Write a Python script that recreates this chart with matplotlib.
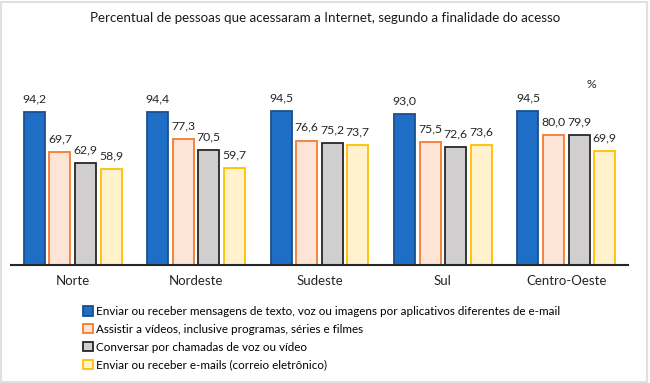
import matplotlib
matplotlib.use("Agg")
import matplotlib.pyplot as plt
import numpy as np
from matplotlib.patches import Patch, Rectangle

plt.rcParams['font.family'] = ['Lato', 'DejaVu Sans']

regions = ["Norte", "Nordeste", "Sudeste", "Sul", "Centro-Oeste"]
series_names = [
    "Enviar ou receber mensagens de texto, voz ou imagens por aplicativos diferentes de e-mail",
    "Assistir a vídeos, inclusive programas, séries e filmes",
    "Conversar por chamadas de voz ou vídeo",
    "Enviar ou receber e-mails (correio eletrônico)",
]
mensagens = [94.2, 94.4, 94.5, 93.0, 94.5]
videos = [69.7, 77.3, 76.6, 75.5, 80.0]
chamadas = [62.9, 70.5, 75.2, 72.6, 79.9]
emails = [58.9, 59.7, 73.7, 73.6, 69.9]
series = [mensagens, videos, chamadas, emails]

fills = ["#1F6EC6", "#FCE4D6", "#D0CECE", "#FFF2CC"]
edges = ["#1B4F8C", "#F47C30", "#262626", "#FFC000"]

fig = plt.figure(figsize=(6.5, 3.83), dpi=100)
ax = fig.add_axes([11/650, 1-265/383, 617/650, (265-102.5)/383])

x = np.arange(len(regions))
step = 0.207
width = 0.17
for i, (vals, fc, ec) in enumerate(zip(series, fills, edges)):
    pos = x + (i - 1.5) * step
    ax.bar(pos, vals, width=width, color=fc, edgecolor=ec, linewidth=1.3, zorder=2)
    for p, v in zip(pos, vals):
        ax.annotate(f"{v:.1f}".replace(".", ","), (p, v), xytext=(0, 5.5),
                    textcoords="offset points", ha="center", va="bottom",
                    fontsize=8.8, color="#262626")

ax.set_xlim(-0.5, 4.5)
ax.set_ylim(0, 100)
ax.set_yticks([])
ax.set_xticks(x)
ax.set_xticklabels(regions, fontsize=9.5, color="#262626")
ax.tick_params(axis="x", length=0, pad=7)
for s in ["top", "right", "left"]:
    ax.spines[s].set_visible(False)
ax.spines["bottom"].set_color("#262626")
ax.spines["bottom"].set_linewidth(1.5)

fig.text(0.5, 1-18/383, "Percentual de pessoas que acessaram a Internet, segundo a finalidade do acesso",
         ha="center", va="center", fontsize=9.6, color="#1a1a1a")
fig.text(591/650, 1-84/383, "%", ha="center", va="center", fontsize=8.8, color="#262626")

handles = [Patch(facecolor=fc, edgecolor=ec, linewidth=1.3) for fc, ec in zip(fills, edges)]
fig.legend(handles, series_names, loc="upper left", bbox_to_anchor=(83/650, 1-306/383),
           frameon=False, fontsize=8.4, handlelength=0.85, handleheight=0.85,
           handletextpad=0.3, labelspacing=0.58, borderaxespad=0, borderpad=0)

fig.patches.append(Rectangle((0.002, 0.002), 0.993, 0.994, transform=fig.transFigure,
                             fill=False, edgecolor="#E0E0E0", linewidth=1.5))

fig.savefig("out.png", dpi=100)
